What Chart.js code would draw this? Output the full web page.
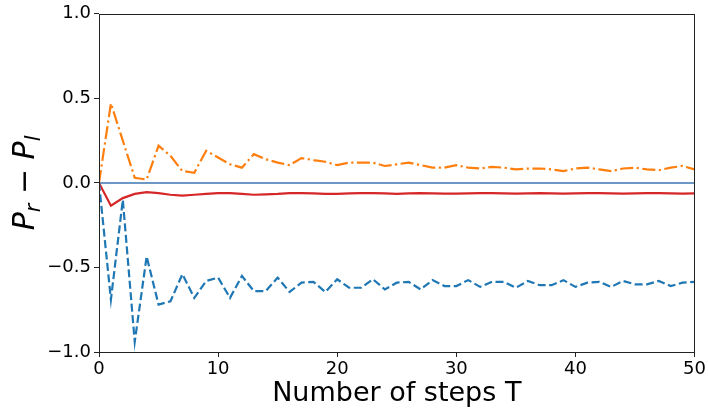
<!DOCTYPE html>
<html>
<head>
<meta charset="utf-8">
<script src="https://cdn.jsdelivr.net/npm/chart.js@4"></script>
<style>
  body { margin: 0; background: #fff; }
  #wrap { width: 708px; height: 415px; }
</style>
</head>
<body>
<div id="wrap"><canvas id="myChart" width="708" height="415"></canvas></div>
<script>
var steps = [];
for (var i = 0; i <= 50; i++) steps.push(i);

var rightMinusLeftA = [0, 0.47, 0.25, 0.03, 0.02, 0.22, 0.16, 0.07, 0.06, 0.19,
  0.15, 0.11, 0.09, 0.17, 0.14, 0.12, 0.105, 0.147, 0.135, 0.125,
  0.105, 0.12, 0.12, 0.12, 0.10, 0.11, 0.12, 0.105, 0.09, 0.09,
  0.105, 0.09, 0.085, 0.095, 0.09, 0.08, 0.085, 0.085, 0.08, 0.07,
  0.085, 0.09, 0.08, 0.07, 0.085, 0.09, 0.08, 0.075, 0.09, 0.1, 0.08];

var rightMinusLeftB = [0, -0.69, -0.1, -0.94, -0.435, -0.72, -0.70, -0.54, -0.68, -0.58,
  -0.56, -0.68, -0.55, -0.64, -0.64, -0.56, -0.645, -0.59, -0.585, -0.645,
  -0.57, -0.62, -0.62, -0.57, -0.63, -0.59, -0.585, -0.63, -0.575, -0.61,
  -0.61, -0.575, -0.615, -0.585, -0.585, -0.62, -0.58, -0.605, -0.605, -0.575,
  -0.615, -0.59, -0.585, -0.615, -0.58, -0.6, -0.6, -0.58, -0.61, -0.59, -0.585];

var rightMinusLeftMean = [0, -0.135, -0.09, -0.065, -0.055, -0.06, -0.07, -0.075, -0.07, -0.065,
  -0.06, -0.06, -0.065, -0.07, -0.068, -0.065, -0.06, -0.06, -0.062, -0.065,
  -0.065, -0.062, -0.06, -0.06, -0.062, -0.065, -0.062, -0.06, -0.062, -0.064,
  -0.064, -0.062, -0.06, -0.06, -0.062, -0.064, -0.062, -0.06, -0.062, -0.064,
  -0.062, -0.06, -0.06, -0.062, -0.064, -0.062, -0.06, -0.06, -0.062, -0.063, -0.062];

var baselineX = [0, 50];
var baselineY = [0, 0];

var xTicks = [0, 10, 20, 30, 40, 50];
var yTicks = [-1, -0.5, 0, 0.5, 1];

function pts(xs, ys) {
  return xs.map(function(x, k){ return {x: x, y: ys[k]}; });
}

// box around the plot + math-style y label
var framePlugin = {
  id: 'frame',
  afterDraw: function(chart) {
    var ctx = chart.ctx, a = chart.chartArea;
    ctx.save();
    ctx.strokeStyle = '#222';
    ctx.lineWidth = 1;
    ctx.strokeRect(Math.round(a.left) + 0.5, Math.round(a.top) + 0.5,
      Math.round(a.right - a.left) - 1, Math.round(a.bottom - a.top));

    // P_r − P_l, rotated
    ctx.translate(34, (a.top + a.bottom) / 2);
    ctx.rotate(-Math.PI / 2);
    ctx.fillStyle = '#000';
    ctx.textBaseline = 'alphabetic';
    var big = 'italic 30px "DejaVu Sans"', small = 'italic 21px "DejaVu Sans"', reg = '30px "DejaVu Sans"';
    var parts = [
      [big, 'P', 0], [small, 'r', 6], [reg, ' \u2212 ', 0], [big, 'P', 0], [small, 'l', 6]
    ];
    var total = 0;
    parts.forEach(function(p){ ctx.font = p[0]; total += ctx.measureText(p[1]).width; });
    var x = -total / 2;
    parts.forEach(function(p){
      ctx.font = p[0];
      ctx.fillText(p[1], x, p[2]);
      x += ctx.measureText(p[1]).width;
    });
    ctx.restore();
  }
};

var ctx = document.getElementById('myChart').getContext('2d');
var myChart = new Chart(ctx, {
  type: 'line',
  data: {
    datasets: [
      {data: pts(steps, rightMinusLeftB), borderColor: '#1f77b4', borderWidth: 2.2, borderDash: [8, 3.5]},
      {data: pts(steps, rightMinusLeftA), borderColor: '#ff7f0e', borderWidth: 2.2, borderDash: [13, 3.5, 2.2, 3.5]},
      {data: pts(steps, rightMinusLeftMean), borderColor: '#d62728', borderWidth: 2.2},
      {data: pts(baselineX, baselineY), borderColor: '#3a76b0', borderWidth: 1.5}
    ]
  },
  options: {
    responsive: false,
    animation: false,
    events: [],
    elements: { point: { radius: 0 }, line: { tension: 0, fill: false } },
    layout: { padding: { top: 12, right: 13, left: 0, bottom: 0 } },
    plugins: { legend: { display: false }, tooltip: { enabled: false } },
    scales: {
      x: {
        type: 'linear', min: 0, max: 50,
        afterBuildTicks: function(s){ s.ticks = xTicks.map(function(v){ return {value: v}; }); },
        afterFit: function(s){ s.height = 63; },
        grid: { drawOnChartArea: false, tickLength: 5, color: '#222', tickWidth: 1 },
        border: { display: false },
        ticks: { color: '#000', padding: 2, maxRotation: 0, font: { family: 'DejaVu Sans', size: 18 } },
        title: { display: true, text: 'Number of steps T', color: '#000', padding: { top: 0, bottom: 5 },
          font: { family: 'DejaVu Sans', size: 27 } }
      },
      y: {
        min: -1, max: 1,
        afterBuildTicks: function(s){ s.ticks = yTicks.map(function(v){ return {value: v}; }); },
        afterFit: function(s){ s.width = 99; },
        grid: { drawOnChartArea: false, tickLength: 5, color: '#222', tickWidth: 1 },
        border: { display: false },
        ticks: { color: '#000', padding: 3, font: { family: 'DejaVu Sans', size: 18 },
          callback: function(v){ return v.toFixed(1).replace('-', '\u2212'); } }
      }
    }
  },
  plugins: [framePlugin]
});
</script>
</body>
</html>
